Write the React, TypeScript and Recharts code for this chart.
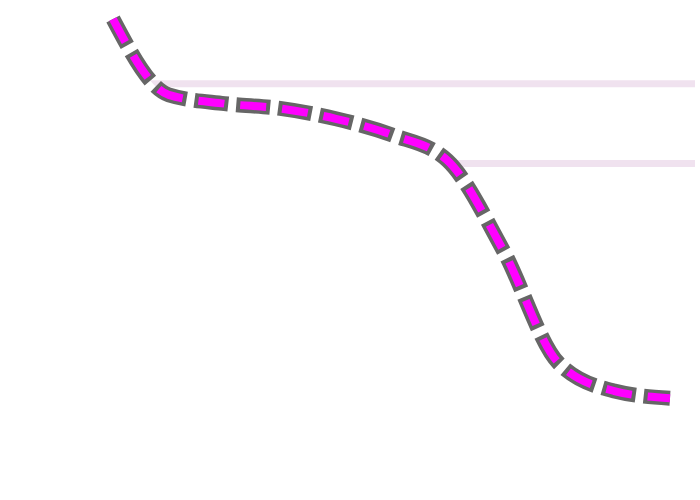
import { ComposedChart, Area, Line, XAxis, YAxis, CartesianGrid } from "recharts";

const steps = ["0", "1", "2", "3", "4", "5", "6", "7", "8", "9", "10"];
const level = [48.1, 38.6, 37.5, 36.9, 35.6, 33.6, 30.4, 19.2, 5.0, 1.5, 0.6];
const gridTicks = [30, 40];

const data = steps.map((s, i) => ({ step: s, level: level[i] }));

// only the two tick lines, no border lines at the plot edges
const gridRows = (props: any) => {
  const scale = props.yAxis?.scale;
  if (typeof scale === "function") return gridTicks.map((v) => scale(v));
  if (scale && typeof scale.map === "function") return gridTicks.map((v) => scale.map(v));
  return [];
};

export default function App() {
  return (
    <div style={{ position: "absolute", left: 0, top: 0, background: "#fff" }}>
      <ComposedChart
        width={700}
        height={500}
        data={data}
        margin={{ top: 19, right: 5, bottom: 97, left: 113 }}
      >
        <CartesianGrid
          vertical={false}
          stroke="#f0e2ef"
          strokeWidth={7}
          strokeDasharray="0"
          horizontalCoordinatesGenerator={gridRows}
        />
        <XAxis dataKey="step" hide padding={{ left: 0, right: 25 }} />
        <YAxis hide domain={[0, 48]} ticks={gridTicks} />
        <Area
          type="monotone"
          dataKey="level"
          stroke="none"
          fill="#ffffff"
          fillOpacity={1}
          isAnimationActive={false}
        />
        <Line
          type="monotone"
          dataKey="level"
          stroke="#666666"
          strokeWidth={15}
          strokeDasharray="34 8"
          strokeDashoffset={4}
          dot={false}
          isAnimationActive={false}
        />
        <Line
          type="monotone"
          dataKey="level"
          stroke="#ff00ff"
          strokeWidth={8}
          strokeDasharray="26 16"
          dot={false}
          isAnimationActive={false}
        />
      </ComposedChart>
    </div>
  );
}
